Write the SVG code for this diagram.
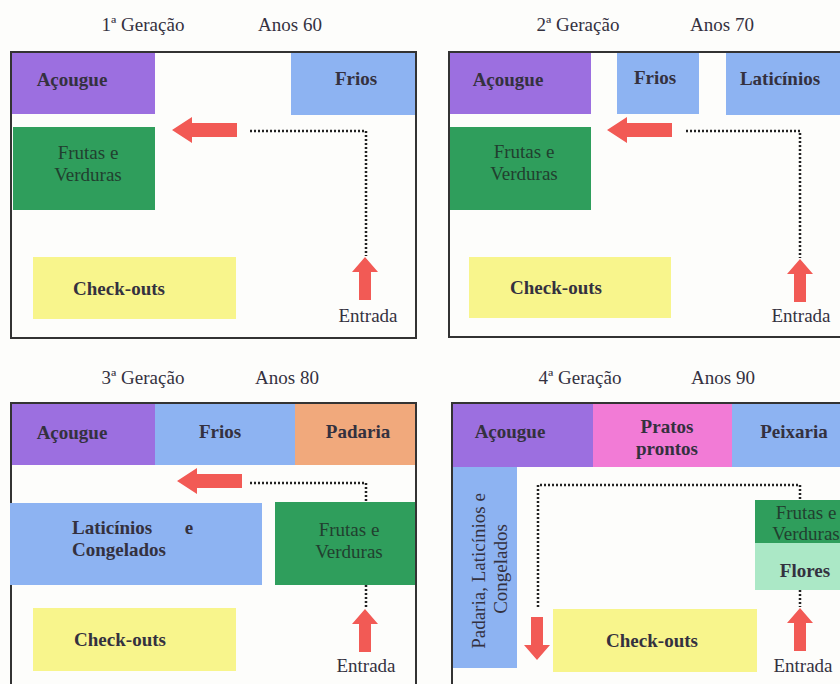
<svg xmlns="http://www.w3.org/2000/svg" width="840" height="684" viewBox="0 0 840 684">
<style>
text{font-size:19px;fill:#34313f;text-anchor:middle;dominant-baseline:central}
.b{font-weight:bold}
.st{text-anchor:start}
.frame{fill:none;stroke:#333;stroke-width:2}
.pur{fill:#9c6fe0}.blu{fill:#8db3f2}.grn{fill:#2f9e5c}.yel{fill:#f8f58c}.org{fill:#f1a97c}.pnk{fill:#f27bd6}.lgr{fill:#abe8c6}
.gt{fill:#21402f}
.dot{fill:none;stroke:#222;stroke-width:2.5;stroke-dasharray:2 2}
.arr{fill:#f25a55}
</style>
<defs>
<path id="aL" d="M0,0 L20,-13 L20,-7 L65,-7 L65,7 L20,7 L20,13 Z"/>
<path id="aU" d="M0,0 L13,15 L6,15 L6,43 L-6,43 L-6,15 L-13,15 Z"/>
</defs>
<rect width="840" height="684" fill="#fdfdfb"/>
<g font-family="Liberation Serif">

<!-- Panel 1 -->
<g id="p1">
<text x="143" y="24">1ª Geração</text>
<text x="290" y="24">Anos 60</text>
<rect class="frame" x="11" y="52" width="405" height="286"/>
<g id="p1-acougue"><rect class="pur" x="12" y="53" width="143" height="61"/><text class="b" x="72" y="79">Açougue</text></g>
<g id="p1-frios"><rect class="blu" x="291" y="53" width="124" height="62"/><text class="b" x="356" y="78">Frios</text></g>
<g id="p1-frutas"><rect class="grn" x="13" y="127" width="142" height="83"/><text class="gt" x="88" y="152">Frutas e</text><text class="gt" x="88" y="174">Verduras</text></g>
<g id="p1-checkouts"><rect class="yel" x="33" y="257" width="203" height="62"/><text class="b" x="119" y="288">Check-outs</text></g>
<g id="p1-entrada"><text x="368" y="315">Entrada</text></g>
</g>

<!-- Panel 2 -->
<g id="p2">
<text x="578" y="24">2ª Geração</text>
<text x="722" y="24">Anos 70</text>
<rect class="frame" x="449" y="52" width="420" height="285"/>
<g id="p2-acougue"><rect class="pur" x="450" y="53" width="141" height="61"/><text class="b" x="508" y="79">Açougue</text></g>
<g id="p2-frios"><rect class="blu" x="617" y="53" width="82" height="61"/><text class="b" x="655" y="77">Frios</text></g>
<g id="p2-laticinios"><rect class="blu" x="726" y="53" width="114" height="62"/><text class="b" x="780" y="78">Laticínios</text></g>
<g id="p2-frutas"><rect class="grn" x="450" y="127" width="141" height="83"/><text class="gt" x="524" y="151">Frutas e</text><text class="gt" x="524" y="173">Verduras</text></g>
<g id="p2-checkouts"><rect class="yel" x="469" y="257" width="202" height="61"/><text class="b" x="556" y="287">Check-outs</text></g>
<g id="p2-entrada"><text x="801" y="315">Entrada</text></g>
</g>

<!-- Panel 3 -->
<g id="p3">
<text x="143" y="377">3ª Geração</text>
<text x="287" y="377">Anos 80</text>
<rect class="frame" x="11" y="403" width="405" height="300"/>
<g id="p3-acougue"><rect class="pur" x="12" y="404" width="143" height="61"/><text class="b" x="72" y="432">Açougue</text></g>
<g id="p3-frios"><rect class="blu" x="155" y="404" width="140" height="61"/><text class="b" x="220" y="431">Frios</text></g>
<g id="p3-padaria"><rect class="org" x="295" y="404" width="120" height="61"/><text class="b" x="358" y="431">Padaria</text></g>
<g id="p3-laticinios"><rect class="blu" x="10" y="503" width="252" height="82"/><text class="b st" x="72" y="527">Laticínios</text><text class="b" x="189" y="527">e</text><text class="b st" x="72" y="549">Congelados</text></g>
<g id="p3-frutas"><rect class="grn" x="275" y="502" width="140" height="83"/><text class="gt" x="349" y="529">Frutas e</text><text class="gt" x="349" y="551">Verduras</text></g>
<g id="p3-checkouts"><rect class="yel" x="33" y="608" width="203" height="63"/><text class="b" x="120" y="639">Check-outs</text></g>
<g id="p3-entrada"><text x="366" y="665">Entrada</text></g>
</g>

<!-- Panel 4 -->
<g id="p4">
<text x="580" y="377">4ª Geração</text>
<text x="723" y="377">Anos 90</text>
<rect class="frame" x="452" y="403" width="420" height="300"/>
<g id="p4-acougue"><rect class="pur" x="453" y="404" width="140" height="63"/><text class="b" x="510" y="431">Açougue</text></g>
<g id="p4-pratos"><rect class="pnk" x="593" y="404" width="139" height="63"/><text class="b" x="667" y="426">Pratos</text><text class="b" x="667" y="448">prontos</text></g>
<g id="p4-peixaria"><rect class="blu" x="732" y="404" width="108" height="63"/><text class="b" x="794" y="431">Peixaria</text></g>
<g id="p4-padaria"><rect class="blu" x="453" y="467" width="64" height="201"/><text transform="translate(478,571) rotate(-90)">Padaria, Laticínios e</text><text transform="translate(500,569) rotate(-90)">Congelados</text></g>
<g id="p4-frutas"><rect class="grn" x="755" y="500" width="85" height="43"/><text class="gt" x="806" y="512">Frutas e</text><text class="gt" x="806" y="533">Verduras</text></g>
<g id="p4-flores"><rect class="lgr" x="755" y="543" width="85" height="47"/><text class="b" x="805" y="570">Flores</text></g>
<g id="p4-checkouts"><rect class="yel" x="553" y="609" width="204" height="63"/><text class="b" x="652" y="640">Check-outs</text></g>
<g id="p4-entrada"><text x="803" y="665">Entrada</text></g>
</g>
</g>

<!-- Connectors -->
<g id="connectors">
<path class="dot" d="M250,131 H366 V256"/>
<use href="#aL" class="arr" x="172" y="130"/>
<use href="#aU" class="arr" x="365" y="257"/>

<path class="dot" d="M686,131 H800 V258"/>
<use href="#aL" class="arr" x="607" y="130"/>
<use href="#aU" class="arr" x="800" y="259"/>

<path class="dot" d="M250,483 H366 V502 M366,585 V608"/>
<use href="#aL" class="arr" x="177" y="481"/>
<use href="#aU" class="arr" x="365" y="609"/>

<path class="dot" d="M538,607 V485 H800 V500 M800,590 V607"/>
<use href="#aU" class="arr" transform="translate(537,660) scale(1,-1)"/>
<use href="#aU" class="arr" x="800" y="608"/>
</g>
</svg>
